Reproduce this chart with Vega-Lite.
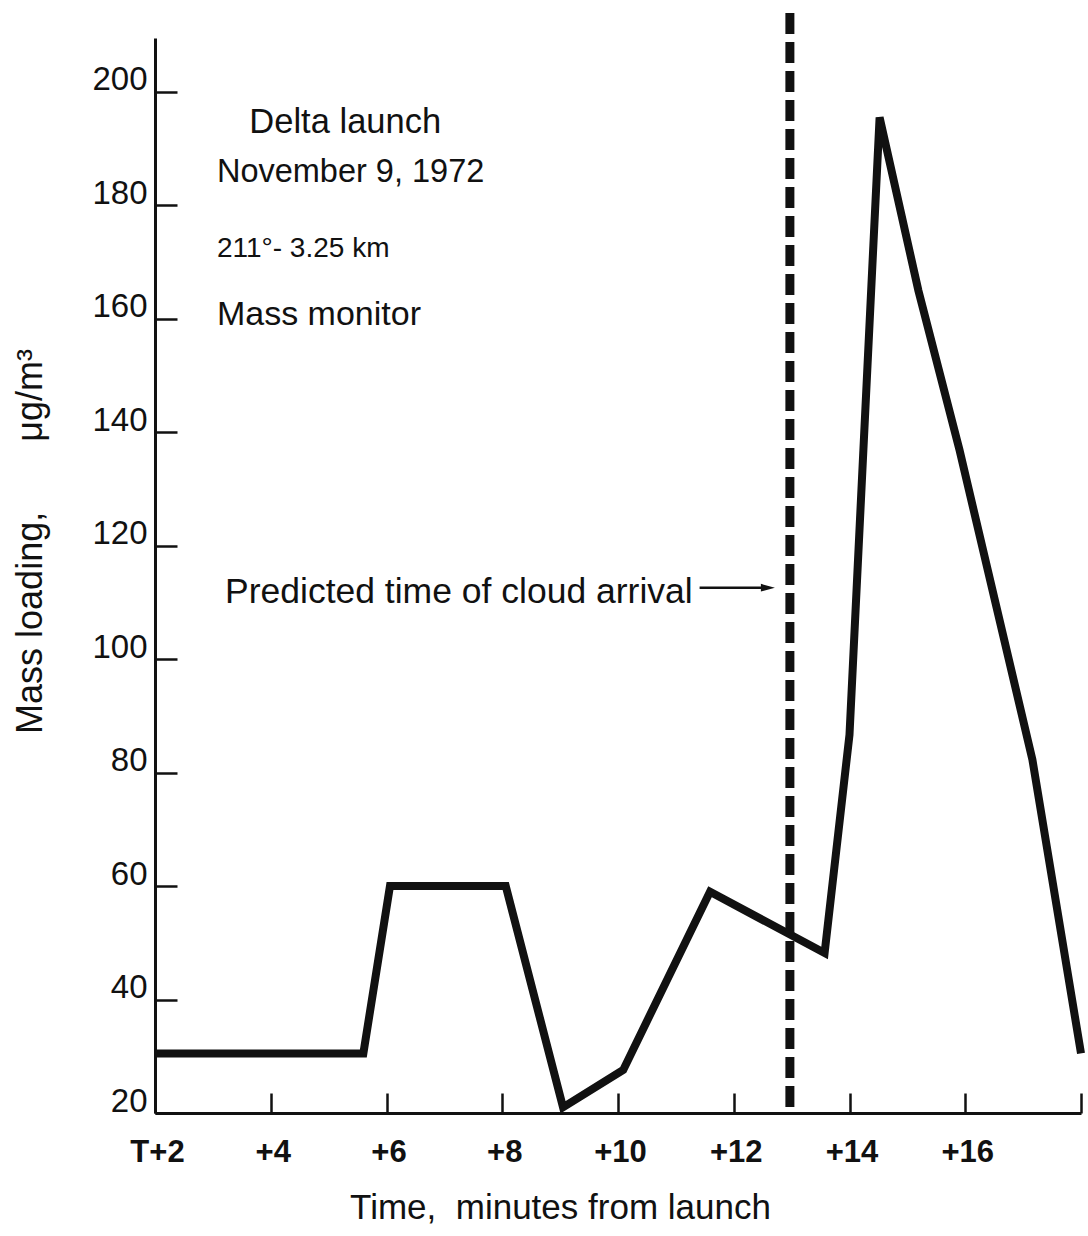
{
  "$schema": "https://vega.github.io/schema/vega-lite/v6.json",
  "width": 926,
  "height": 1075,
  "autosize": "none",
  "padding": {"left": 155, "top": 38, "right": 7, "bottom": 123},
  "background": "white",
  "config": {"view": {"stroke": null}, "font": "Liberation Sans"},
  "encoding": {
    "x": {
      "field": "minutes", "type": "quantitative",
      "scale": {"domain": [2, 18], "nice": false, "zero": false},
      "axis": {
        "values": [2, 4, 6, 8, 10, 12, 14, 16, 18],
        "labelExpr": "datum.value == 2 ? 'T+2' : (datum.value == 18 ? '' : '+' + datum.value)",
        "title": "Time,\u00a0 minutes from launch",
        "titleX": 405, "titleY": 105, "titleAlign": "center", "titleBaseline": "alphabetic",
        "titleFontSize": 35, "titleFontWeight": "normal", "titleColor": "#111",
        "labelFontSize": 31, "labelFontWeight": "bold", "labelColor": "#111",
        "labelBaseline": "top", "labelPadding": 44, "labelOffset": 2, "labelAngle": 0,
        "labelFlush": false, "labelOverlap": false,
        "tickSize": -20, "tickWidth": 2.5, "tickColor": "#111",
        "domainColor": "#111", "domainWidth": 3, "grid": false
      }
    },
    "y": {
      "field": "mass", "type": "quantitative",
      "scale": {"domain": [20, 209.5], "nice": false, "zero": false},
      "axis": {
        "values": [20, 40, 60, 80, 100, 120, 140, 160, 180, 200],
        "title": "Mass loading,\u00a0\u00a0\u00a0\u00a0\u00a0\u00a0\u00a0μg/m³",
        "titleX": -125, "titleY": 503, "titleAngle": -90, "titleAlign": "center", "titleBaseline": "middle",
        "titleFontSize": 36, "titleFontWeight": "normal", "titleColor": "#111",
        "labelFontSize": 33, "labelColor": "#111", "labelBaseline": "alphabetic", "labelAlign": "right",
        "labelPadding": 30, "labelOffset": -2, "labelFlush": false, "labelOverlap": false,
        "tickSize": -22, "tickWidth": 2.5, "tickColor": "#111",
        "domainColor": "#111", "domainWidth": 3, "grid": false
      }
    }
  },
  "layer": [
    {
      "data": {"values": [
        {"minutes": 2, "mass": 30.5},
        {"minutes": 5.6, "mass": 30.5},
        {"minutes": 6.06, "mass": 60},
        {"minutes": 8.06, "mass": 60},
        {"minutes": 9.05, "mass": 21},
        {"minutes": 10.09, "mass": 27.6},
        {"minutes": 11.59, "mass": 59},
        {"minutes": 13.57, "mass": 48.2},
        {"minutes": 14.0, "mass": 86.7},
        {"minutes": 14.52, "mass": 195.5},
        {"minutes": 15.19, "mass": 165},
        {"minutes": 15.9, "mass": 136.9},
        {"minutes": 17.16, "mass": 82.3},
        {"minutes": 18, "mass": 30.5}
      ]},
      "mark": {"type": "line", "color": "#111", "strokeWidth": 8, "strokeJoin": "miter", "strokeMiterLimit": 3, "strokeCap": "butt"}
    },
    {
      "data": {"values": [{"minutes": 12.97, "mass": 213.9, "mass2": 20}]},
      "mark": {"type": "rule", "color": "#111", "strokeWidth": 9, "strokeDash": [21, 8], "strokeCap": "butt"},
      "encoding": {"y2": {"field": "mass2"}}
    },
    {
      "data": {"values": [{"minutes": 3.63, "mass": 192.7, "label": "Delta launch"}]},
      "mark": {"type": "text", "align": "left", "baseline": "alphabetic", "fontSize": 34.5, "color": "#111"},
      "encoding": {"text": {"field": "label"}}
    },
    {
      "data": {"values": [{"minutes": 3.07, "mass": 184.2, "label": "November 9, 1972"}]},
      "mark": {"type": "text", "align": "left", "baseline": "alphabetic", "fontSize": 32.5, "color": "#111"},
      "encoding": {"text": {"field": "label"}}
    },
    {
      "data": {"values": [{"minutes": 3.07, "mass": 158.9, "label": "Mass monitor"}]},
      "mark": {"type": "text", "align": "left", "baseline": "alphabetic", "fontSize": 34, "color": "#111"},
      "encoding": {"text": {"field": "label"}}
    },
    {
      "data": {"values": [{"minutes": 3.07, "mass": 170.9, "label": "211°- 3.25 km"}]},
      "mark": {"type": "text", "align": "left", "baseline": "alphabetic", "fontSize": 28, "color": "#111"},
      "encoding": {"text": {"field": "label"}}
    },
    {
      "data": {"values": [{"minutes": 3.21, "mass": 109.9, "label": "Predicted time of cloud arrival"}]},
      "mark": {"type": "text", "align": "left", "baseline": "alphabetic", "fontSize": 35.5, "color": "#111"},
      "encoding": {"text": {"field": "label"}}
    },
    {
      "data": {"values": [{"minutes": 11.41, "mass": 112.6}, {"minutes": 12.6, "mass": 112.6}]},
      "mark": {"type": "line", "color": "#111", "strokeWidth": 2.5}
    },
    {
      "data": {"values": [{"minutes": 12.59, "mass": 112.6}]},
      "mark": {"type": "point", "shape": "M-1,-0.55L1,0L-1,0.55Z", "size": 196, "filled": true, "color": "#111", "opacity": 1}
    }
  ]
}
